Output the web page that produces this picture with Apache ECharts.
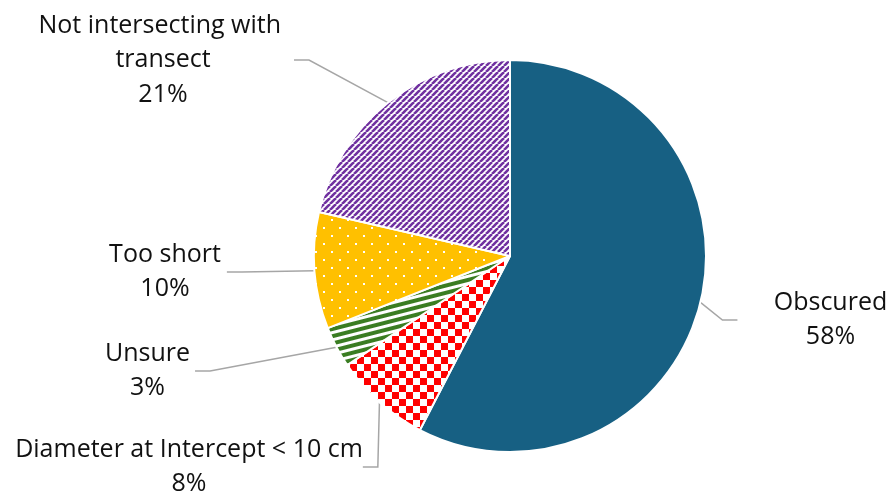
<!DOCTYPE html>
<html>
<head>
<meta charset="utf-8">
<script src="https://cdn.jsdelivr.net/npm/echarts@6/dist/echarts.min.js"></script>
<style>
html,body{margin:0;padding:0;background:#fff;}
#chart{width:891px;height:497px;}
</style>
</head>
<body>
<div id="chart"></div>
<script>
// Data
const categories = ['Obscured', 'Diameter at Intercept < 10 cm', 'Unsure', 'Too short', 'Not intersecting with transect'];
const values = [57.6, 8.0, 3.4, 9.6, 21.4];

// Pattern tiles
function tile(w, h, draw) {
  const c = document.createElement('canvas');
  c.width = w; c.height = h;
  const ctx = c.getContext('2d');
  draw(ctx, w, h);
  return c;
}
const solidBlue = '#176083';
const purpleTile = tile(6, 6, (ctx, s) => {
  ctx.fillStyle = '#fff'; ctx.fillRect(0, 0, s, s);
  ctx.strokeStyle = '#7030a0'; ctx.lineWidth = 2.6;
  for (const k of [-s, 0, s]) {
    ctx.beginPath(); ctx.moveTo(k, s); ctx.lineTo(k + s, 0); ctx.stroke();
  }
});
const greenTile = tile(8, 7, (ctx, w, h) => {
  ctx.fillStyle = '#fff'; ctx.fillRect(0, 0, w, h);
  ctx.fillStyle = '#3a7d22'; ctx.fillRect(0, 0, w, 4);
});
const checkTile = tile(14, 14, (ctx) => {
  ctx.fillStyle = '#fff'; ctx.fillRect(0, 0, 14, 14);
  ctx.fillStyle = '#ff0000';
  ctx.fillRect(0, 0, 7, 7); ctx.fillRect(7, 7, 7, 7);
});
const dotTile = tile(16, 16, (ctx) => {
  ctx.fillStyle = '#ffc000'; ctx.fillRect(0, 0, 16, 16);
  ctx.fillStyle = '#fff';
  ctx.fillRect(3, 3, 2, 2); ctx.fillRect(11, 11, 2, 2);
});

const fills = [
  solidBlue,
  { image: checkTile, repeat: 'repeat' },
  { image: greenTile, repeat: 'repeat', rotation: -0.25 },
  { image: dotTile, repeat: 'repeat' },
  { image: purpleTile, repeat: 'repeat' }
];

const labelPos = [
  { x: 808, y: 320 },
  { x: 190, y: 467 },
  { x: 150, y: 371 },
  { x: 168, y: 272 },
  { x: 163, y: 60 }
];
const labelPad = [
  [0, 0, 0, 45],
  [0, 2, 0, 0],
  [0, 5, 0, 0],
  [0, 6, 0, 0],
  [0, 0, 0, 0]
];

const chart = echarts.init(document.getElementById('chart'), null, { renderer: 'canvas' });
chart.setOption({
  backgroundColor: '#fff',
  animation: false,
  series: [{
    type: 'pie',
    center: [510, 256],
    radius: 196,
    startAngle: 90,
    clockwise: true,
    percentPrecision: 0,
    data: categories.map((n, i) => ({
      name: n,
      value: values[i],
      itemStyle: { color: fills[i] },
      label: Object.assign({ padding: labelPad[i] }, i === 4 ? { width: 262, overflow: 'break' } : {})
    })),
    itemStyle: { borderColor: '#fff', borderWidth: 2 },
    label: {
      show: true,
      position: 'outside',
      formatter: '{b}\n{d}%',
      fontFamily: 'Open Sans',
      fontSize: 25,
      lineHeight: 34.5,
      color: '#111',
      align: 'center',
      overflow: 'none'
    },
    labelLine: {
      show: true,
      length: 20,
      length2: 15,
      lineStyle: { color: '#a6a6a6', width: 1.5 }
    },
    labelLayout: function (params) {
      const p = labelPos[params.dataIndex];
      return { x: p.x, y: p.y, align: 'center', verticalAlign: 'middle' };
    }
  }]
});
</script>
</body>
</html>
